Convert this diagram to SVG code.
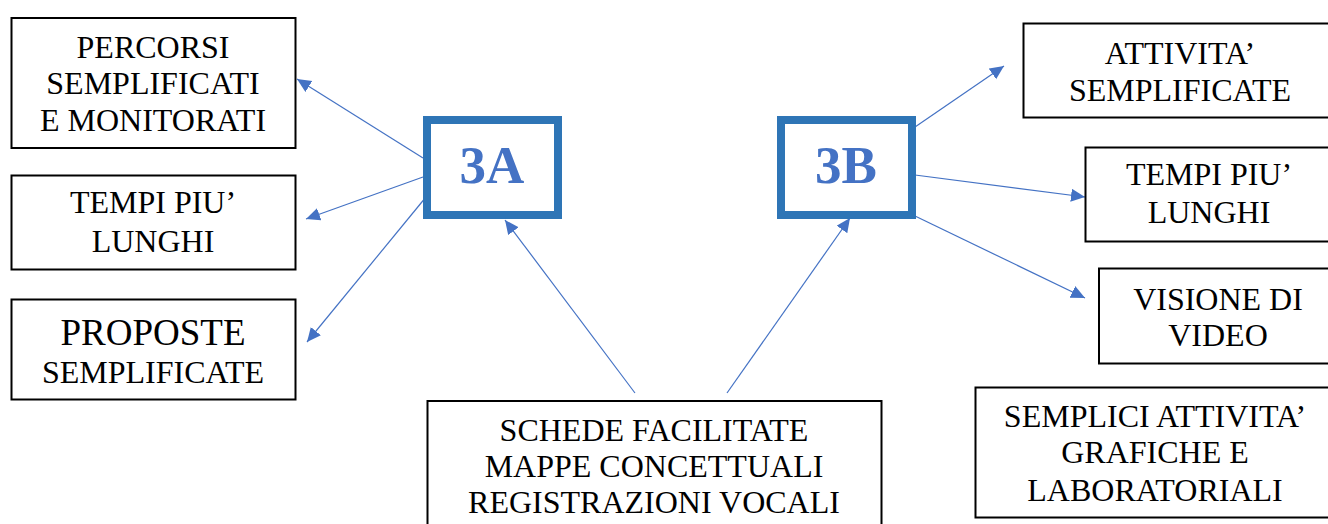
<svg xmlns="http://www.w3.org/2000/svg" width="1328" height="524" viewBox="0 0 1328 524">
<style>
.box{fill:#fff;stroke:#000;stroke-width:2}
.hub{fill:#fff;stroke:#2E75B6;stroke-width:8}
.t{font-family:"Liberation Serif","Times New Roman",serif;font-size:32px;fill:#000;text-anchor:middle}
.big{font-size:37px}
.h{font-family:"Liberation Serif","Times New Roman",serif;font-size:53px;font-weight:bold;fill:#4472C4;text-anchor:middle}
.c{stroke:#4472C4;stroke-width:1.2;fill:none;marker-end:url(#ah)}
</style>
<defs>
<marker id="ah" markerUnits="userSpaceOnUse" markerWidth="15" markerHeight="14" refX="14" refY="6.5" orient="auto">
<path d="M0,0 L14,6.5 L0,13 z" fill="#4472C4"/>
</marker>
</defs>
<rect width="1328" height="524" fill="#fff"/>
<g id="connectors">
<line class="c" x1="423" y1="158" x2="297" y2="79"/>
<line class="c" x1="423" y1="177" x2="306" y2="219"/>
<line class="c" x1="426" y1="197" x2="307" y2="342"/>
<line class="c" x1="635" y1="393" x2="505" y2="220"/>
<line class="c" x1="915" y1="127" x2="1004" y2="66"/>
<line class="c" x1="915" y1="175" x2="1085" y2="197"/>
<line class="c" x1="915" y1="216" x2="1085" y2="298"/>
<line class="c" x1="727" y1="393" x2="850" y2="218"/>
</g>
<g id="n-percorsi">
<rect class="box" x="11.5" y="18" width="284" height="130"/>
<text class="t" x="153" y="58">PERCORSI</text>
<text class="t" x="153" y="94">SEMPLIFICATI</text>
<text class="t" x="153" y="131">E MONITORATI</text>
</g>
<g id="n-tempi-a">
<rect class="box" x="11.5" y="175.5" width="284" height="94"/>
<text class="t" x="153" y="213">TEMPI PIU’</text>
<text class="t" x="153" y="252">LUNGHI</text>
</g>
<g id="n-proposte">
<rect class="box" x="11.5" y="299.5" width="284" height="100"/>
<text class="t big" x="153" y="345">PROPOSTE</text>
<text class="t" x="153" y="383">SEMPLIFICATE</text>
</g>
<g id="n-3a">
<rect class="hub" x="427" y="120" width="131" height="95"/>
<text class="h" x="492" y="183">3A</text>
</g>
<g id="n-3b">
<rect class="hub" x="781" y="120" width="131" height="95"/>
<text class="h" x="846" y="183">3B</text>
</g>
<g id="n-schede">
<rect class="box" x="427.5" y="401" width="454" height="140"/>
<text class="t" x="654" y="441">SCHEDE FACILITATE</text>
<text class="t" x="654" y="477">MAPPE CONCETTUALI</text>
<text class="t" x="654" y="513">REGISTRAZIONI VOCALI</text>
</g>
<g id="n-attivita">
<rect class="box" x="1023.5" y="23.5" width="320" height="94"/>
<text class="t" x="1180" y="64">ATTIVITA’</text>
<text class="t" x="1180" y="101">SEMPLIFICATE</text>
</g>
<g id="n-tempi-b">
<rect class="box" x="1085.5" y="147.5" width="260" height="94"/>
<text class="t" x="1209" y="185">TEMPI PIU’</text>
<text class="t" x="1209" y="223">LUNGHI</text>
</g>
<g id="n-visione">
<rect class="box" x="1099" y="268.5" width="250" height="95"/>
<text class="t" x="1218" y="310">VISIONE DI</text>
<text class="t" x="1218" y="346">VIDEO</text>
</g>
<g id="n-semplici">
<rect class="box" x="975.5" y="387.5" width="370" height="130"/>
<text class="t" x="1155" y="427">SEMPLICI ATTIVITA’</text>
<text class="t" x="1155" y="463">GRAFICHE E</text>
<text class="t" x="1155" y="501">LABORATORIALI</text>
</g>
</svg>
